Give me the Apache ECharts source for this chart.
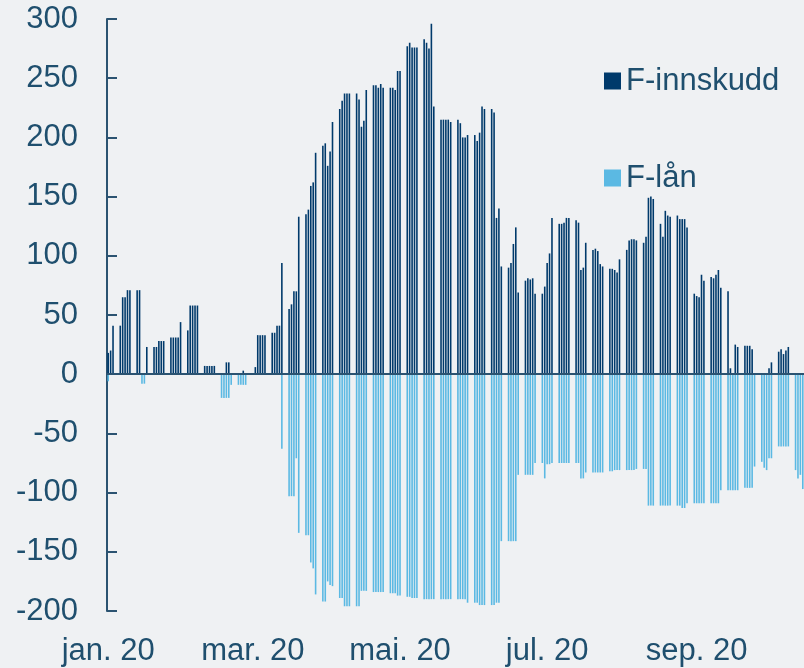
<!DOCTYPE html>
<html>
<head>
<meta charset="utf-8">
<script src="https://cdn.jsdelivr.net/npm/echarts@6/dist/echarts.min.js"></script>
<style>
  html, body { margin: 0; padding: 0; background: #eff1f3; }
  #chart { width: 804px; height: 668px; }
</style>
</head>
<body>
<div id="chart"></div>
<script>
// daily data, business days only (Mon-Fri), from 2020-01-01 to 2020-10-15
const startDate = '2020-01-01'
const endDate = '2020-10-15'

// F-innskudd, one row per week
const innskudd = [
  18, 20, 41,                 // jan 1-3
  41, 65, 65, 71, 71,
  71, 71, 0, 0, 23,
  23, 23, 28, 28, 28,
  31, 31, 31, 31, 44,
  37, 58, 58, 58, 58,         // feb
  7, 7, 7, 7, 7,
  0, 0, 10, 10, 0,
  0, 0, 3, 0, 0,
  6, 33, 33, 33, 33,          // mar
  35, 35, 41, 41, 94,
  55, 59, 70, 70, 133,
  135, 139, 159, 162, 187,
  193, 195, 176, 188, 213,
  224, 231, 237, 237, 237,    // apr
  237, 232, 209, 214, 240,
  244, 244, 242, 245, 242,
  242, 242, 240, 256, 256,
  277, 280, 276, 276, 276,    // mai
  283, 280, 275, 296, 226,
  215, 215, 215, 215, 213,
  215, 212, 200, 200, 202,
  202, 197, 204, 226, 224,    // jun
  224, 221, 132, 140, 91,
  90, 94, 110, 124, 69,
  79, 81, 80, 81, 68,
  68, 74, 94, 102, 132,
  127, 127, 128, 132, 132,    // jul
  130, 128, 88, 90, 111,
  105, 106, 104, 93, 91,
  89, 89, 88, 86, 97,
  105, 113, 114, 114, 113,    // aug
  111, 116, 149, 150, 148,
  127, 116, 138, 134, 133,
  134, 131, 131, 131, 124,
  68, 66, 65, 84, 79,         // sep
  82, 81, 84, 88, 73,
  70, 5, 0, 25, 23,
  24, 24, 24, 21, 0,
  0, 0, 0, 5, 10,
  19, 21, 17, 20, 23,         // okt
  0, 0, 0, 0
]

// F-lån, one row per week
const laan = [
  -6, 0, 0,
  0, 0, 0, 0, 0,
  0, 0, -8, -8, 0,
  0, 0, 0, 0, 0,
  0, 0, 0, 0, 0,
  0, 0, 0, 0, 0,
  0, 0, 0, 0, 0,
  -20, -20, -20, -20, -9,
  -9, -9, -9, -9, 0,
  0, 0, 0, 0, 0,
  0, 0, 0, 0, -63,
  -103, -103, -103, -71, -134,
  -136, -136, -159, -164, -186,
  -192, -192, -175, -178, -179,
  -189, -189, -196, -196, -196,
  -196, -196, -183, -183, -183,
  -184, -184, -184, -184, -184,
  -185, -185, -185, -187, -187,
  -188, -188, -189, -189, -189,
  -190, -190, -190, -190, -190,
  -190, -190, -190, -190, -190,
  -190, -190, -190, -190, -193,
  -193, -193, -195, -195, -195,
  -195, -195, -193, -193, -141,
  -141, -141, -141, -141, -85,
  -85, -85, -85, -85, -75,
  -75, -88, -76, -76, -75,
  -75, -75, -75, -75, -75,
  -75, -75, -88, -88, -83,
  -83, -83, -83, -83, -83,
  -82, -82, -81, -81, -81,
  -81, -81, -81, -81, -80,
  -80, -80, -111, -111, -111,
  -111, -111, -111, -111, -111,
  -111, -111, -113, -113, -109,
  -109, -109, -109, -109, -109,
  -109, -109, -109, -109, -98,
  -98, -98, -98, -98, -98,
  -96, -96, -96, -96, -78,
  -74, -79, -81, -71, -71,
  -61, -61, -61, -61, -61,
  -81, -88, -85, -97
]

const labelDates = ['2020-01-01', '2020-03-01', '2020-05-01', '2020-07-01', '2020-09-01']
const labelTexts = ['jan. 20', 'mar. 20', 'mai. 20', 'jul. 20', 'sep. 20']

const textColor = '#1f4f6e'
const axisColor = '#2b5371'
const fontFamily = '"Liberation Sans", Arial, sans-serif'

// kalenderdager, helg = null
const days = []
const innskuddData = []
const laanData = []
let k = 0
for (let t = Date.parse(startDate + 'T00:00:00Z'); t <= Date.parse(endDate + 'T00:00:00Z'); t += 86400000) {
  const d = new Date(t)
  days.push(d.toISOString().slice(0, 10))
  const wd = d.getUTCDay()
  if (wd === 0 || wd === 6) {
    innskuddData.push(null)
    laanData.push(null)
  } else {
    innskuddData.push(innskudd[k])
    laanData.push(laan[k])
    k++
  }
}

const chart = echarts.init(document.getElementById('chart'))
chart.setOption({
  backgroundColor: '#eff1f3',
  animation: false,
  textStyle: { fontFamily: fontFamily },
  grid: { left: 107, right: 0, top: 19, bottom: 57, containLabel: false },
  legend: {
    orient: 'vertical',
    left: 604,
    top: 65,
    padding: 0,
    itemGap: 65,
    itemWidth: 17,
    itemHeight: 17,
    icon: 'rect',
    textStyle: { fontSize: 31, lineHeight: 32, color: textColor, fontFamily: fontFamily },
    data: ['F-innskudd', 'F-lån']
  },
  xAxis: {
    type: 'category',
    data: days,
    boundaryGap: true,
    axisLine: { show: false },
    axisTick: { show: false },
    axisLabel: {
      interval: (i, v) => labelDates.indexOf(v) >= 0,
      formatter: v => labelTexts[labelDates.indexOf(v)],
      fontSize: 31,
      color: textColor,
      fontFamily: fontFamily,
      margin: 25
    },
    splitLine: { show: false }
  },
  yAxis: {
    type: 'value',
    min: -200,
    max: 300,
    interval: 50,
    axisLine: { show: true, lineStyle: { color: axisColor, width: 2 } },
    axisTick: { show: true, inside: true, length: 10, lineStyle: { color: axisColor, width: 2 } },
    axisLabel: { fontSize: 31, color: textColor, fontFamily: fontFamily, margin: 29 },
    splitLine: { show: false }
  },
  series: [
    {
      name: 'F-innskudd',
      type: 'bar',
      data: innskuddData,
      barWidth: 1.6,
      barGap: '-100%',
      itemStyle: { color: '#003a6b' },
      markLine: {
        silent: true,
        symbol: 'none',
        label: { show: false },
        lineStyle: { color: axisColor, width: 2, type: 'solid' },
        data: [{ yAxis: 0 }]
      }
    },
    {
      name: 'F-lån',
      type: 'bar',
      data: laanData,
      barWidth: 1.6,
      barGap: '-100%',
      itemStyle: { color: '#5bb9e3' }
    }
  ]
})
</script>
</body>
</html>
